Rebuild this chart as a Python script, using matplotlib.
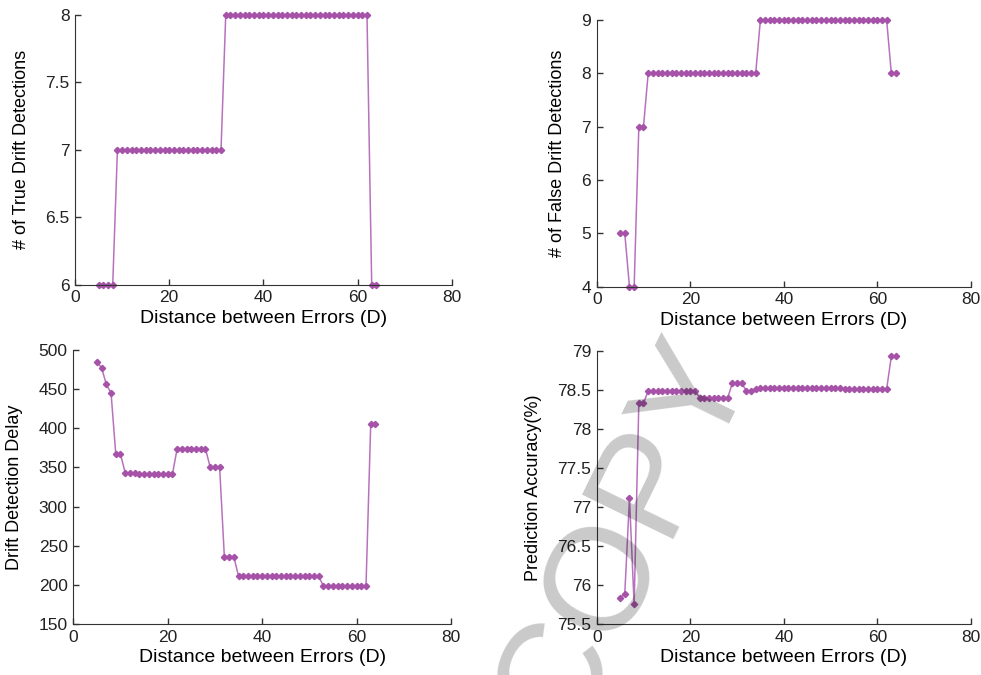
import matplotlib
matplotlib.use("Agg")
import matplotlib.pyplot as plt

plt.rcParams['font.family'] = ['Liberation Sans', 'DejaVu Sans']

# distance between errors (D)
x = [5, 6, 7, 8, 9, 10, 11, 12, 13, 14, 15, 16, 17, 18, 19, 20, 21, 22, 23, 24,
     25, 26, 27, 28, 29, 30, 31, 32, 33, 34, 35, 36, 37, 38, 39, 40, 41, 42, 43, 44,
     45, 46, 47, 48, 49, 50, 51, 52, 53, 54, 55, 56, 57, 58, 59, 60, 61, 62, 63, 64]

# number of true drift detections
true_det = [6, 6, 6, 6, 7, 7, 7, 7, 7, 7, 7, 7, 7, 7, 7, 7, 7, 7, 7, 7,
            7, 7, 7, 7, 7, 7, 7, 8, 8, 8, 8, 8, 8, 8, 8, 8, 8, 8, 8, 8,
            8, 8, 8, 8, 8, 8, 8, 8, 8, 8, 8, 8, 8, 8, 8, 8, 8, 8, 6, 6]

# number of false drift detections
false_det = [5, 5, 4, 4, 7, 7, 8, 8, 8, 8, 8, 8, 8, 8, 8, 8, 8, 8, 8, 8,
             8, 8, 8, 8, 8, 8, 8, 8, 8, 8, 9, 9, 9, 9, 9, 9, 9, 9, 9, 9,
             9, 9, 9, 9, 9, 9, 9, 9, 9, 9, 9, 9, 9, 9, 9, 9, 9, 9, 8, 8]

# drift detection delay
delay = [485, 477, 456, 445, 367, 367, 343, 343, 343, 341, 341, 341, 341, 341, 341, 341, 341, 374, 374, 374,
         374, 374, 374, 374, 350, 350, 350, 236, 236, 236, 211, 211, 211, 211, 211, 211, 211, 211, 211, 211,
         211, 211, 211, 211, 211, 211, 211, 211, 198, 198, 198, 198, 198, 198, 198, 198, 198, 198, 405, 405]

# prediction accuracy (%)
accuracy = [75.83, 75.89, 77.11, 75.75, 78.33, 78.33, 78.49, 78.49, 78.49, 78.49, 78.49, 78.49, 78.49, 78.49, 78.49, 78.49, 78.49, 78.40, 78.40, 78.40,
            78.40, 78.40, 78.40, 78.40, 78.585, 78.585, 78.585, 78.49, 78.49, 78.51, 78.53, 78.53, 78.53, 78.53, 78.53, 78.53, 78.53, 78.53, 78.53, 78.53,
            78.53, 78.53, 78.53, 78.53, 78.53, 78.53, 78.53, 78.53, 78.51, 78.51, 78.51, 78.51, 78.51, 78.51, 78.51, 78.51, 78.51, 78.51, 78.93, 78.93]

xlabel = "Distance between Errors (D)"

panels = [
    # (values, ylabel, ylim, yticks, yticklabels, axes rect)
    (true_det, "# of True Drift Detections", (6, 8), [6, 6.5, 7, 7.5, 8],
     ["6", "6.5", "7", "7.5", "8"], [0.0765, 0.578, 0.384, 0.400]),
    (false_det, "# of False Drift Detections", (4, 9), [4, 5, 6, 7, 8, 9],
     ["4", "5", "6", "7", "8", "9"], [0.6083, 0.575, 0.3813, 0.3956]),
    (delay, "Drift Detection Delay", (150, 500), [150, 200, 250, 300, 350, 400, 450, 500],
     ["150", "200", "250", "300", "350", "400", "450", "500"], [0.0747, 0.0756, 0.385, 0.406]),
    (accuracy, "Prediction Accuracy(%)", (75.5, 79), [75.5, 76, 76.5, 77, 77.5, 78, 78.5, 79],
     ["75.5", "76", "76.5", "77", "77.5", "78", "78.5", "79"], [0.6083, 0.0756, 0.3813, 0.4044]),
]

fig = plt.figure(figsize=(9.81, 6.75), dpi=100)

for vals, ylab, ylim, yt, ytl, rect in panels:
    ax = fig.add_axes(rect)
    ax.plot(x, vals, color="#b772bd", linewidth=1.1, marker="D", markersize=3.2,
            markerfacecolor="#a552a8", markeredgecolor="#a552a8", clip_on=False)
    ax.set_xlim(0, 80)
    ax.set_ylim(*ylim)
    ax.set_xticks([0, 20, 40, 60, 80])
    ax.set_yticks(yt)
    ax.set_yticklabels(ytl)
    ax.spines['top'].set_visible(False)
    ax.spines['right'].set_visible(False)
    ax.spines['left'].set_color("#333333")
    ax.spines['bottom'].set_color("#333333")
    ax.tick_params(direction="in", length=4, width=1, colors="#333333",
                   labelcolor="#222222", labelsize=12.5, pad=4)
    ax.set_xlabel(xlabel, fontsize=14, labelpad=3)
    ax.set_ylabel(ylab, fontsize=13, labelpad=11)

# grey watermark lying over the lower right panel
fig.text(0.637, 0.205, "COPY", fontsize=106, family=['Liberation Sans', 'DejaVu Sans'],
         color="black", alpha=0.21, rotation=64, ha="center", va="center",
         rotation_mode="anchor", zorder=10)

plt.savefig("out.png", dpi=100)
